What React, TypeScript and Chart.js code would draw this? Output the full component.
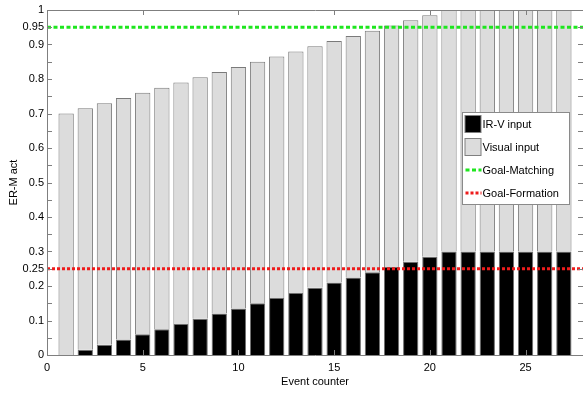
import React, { useEffect, useRef } from "react";
import { Chart, registerables } from "chart.js";

Chart.register(...registerables);

// ---- data ----
const eventCounter = [1, 2, 3, 4, 5, 6, 7, 8, 9, 10, 11, 12, 13, 14, 15, 16, 17, 18, 19, 20, 21, 22, 23, 24, 25, 26, 27];
const irvInput = [0, 0.015, 0.03, 0.045, 0.06, 0.075, 0.09, 0.105, 0.12, 0.135, 0.15, 0.165, 0.18, 0.195, 0.21, 0.225, 0.24, 0.255, 0.27, 0.285, 0.3, 0.3, 0.3, 0.3, 0.3, 0.3, 0.3];
const visualInput = [0.7, 0.7, 0.7, 0.7, 0.7, 0.7, 0.7, 0.7, 0.7, 0.7, 0.7, 0.7, 0.7, 0.7, 0.7, 0.7, 0.7, 0.7, 0.7, 0.7, 0.7, 0.7, 0.7, 0.7, 0.7, 0.7, 0.7];
const goalMatching = 0.95;
const goalFormation = 0.25;
const xRange = [0, 28];
const xTicks = [0, 5, 10, 15, 20, 25];
const yTicks = [0, 0.05, 0.1, 0.15, 0.2, 0.25, 0.3, 0.35, 0.4, 0.45, 0.5, 0.55, 0.6, 0.65, 0.7, 0.75, 0.8, 0.85, 0.9, 0.95, 1];
const yLabeled = [0, 0.1, 0.2, 0.25, 0.3, 0.4, 0.5, 0.6, 0.7, 0.8, 0.9, 0.95, 1];
const seriesLabels = ["IR-V input", "Visual input", "Goal-Matching", "Goal-Formation"];
const xTitle = "Event counter";
const yTitle = "ER-M act";

const FONT = "'Liberation Sans', Arial, Helvetica, sans-serif";
const AXIS_COLOR = "#7f7f7f";

const framePlugin = {
  id: "frameTicks",
  afterDatasetsDraw(chart: any) {
    const { ctx, chartArea: a, scales } = chart;
    const xs = scales.x;
    const ys = scales.y;
    ctx.save();
    ctx.strokeStyle = AXIS_COLOR;
    ctx.lineWidth = 1;
    ctx.setLineDash([]);
    ctx.beginPath();
    ctx.moveTo(a.right + 0.5, a.top + 0.5);
    ctx.lineTo(a.left + 0.5, a.top + 0.5);
    ctx.lineTo(a.left + 0.5, a.bottom + 0.5);
    ctx.lineTo(a.right + 0.5, a.bottom + 0.5);
    ctx.lineTo(a.right + 0.5, a.top + 0.5);
    ctx.stroke();
    const L = 5;
    ctx.beginPath();
    xTicks.forEach((v) => {
      const px = Math.round(xs.getPixelForValue(v)) + 0.5;
      ctx.moveTo(px, a.bottom);
      ctx.lineTo(px, a.bottom - L);
      ctx.moveTo(px, a.top);
      ctx.lineTo(px, a.top + L);
    });
    yTicks.forEach((v) => {
      const py = Math.round(ys.getPixelForValue(v)) + 0.5;
      ctx.moveTo(a.left, py);
      ctx.lineTo(a.left + L, py);
      ctx.moveTo(a.right, py);
      ctx.lineTo(a.right - L, py);
    });
    ctx.stroke();
    ctx.restore();
  },
};

const legendPlugin = {
  id: "boxLegend",
  afterDraw(chart: any) {
    const { ctx } = chart;
    const x0 = 462.5;
    const y0 = 112.5;
    const w = 107;
    const h = 92;
    ctx.save();
    ctx.fillStyle = "#ffffff";
    ctx.fillRect(x0, y0, w, h);
    ctx.strokeStyle = "#8a8a8a";
    ctx.lineWidth = 1;
    ctx.strokeRect(x0, y0, w, h);
    ctx.font = `11px ${FONT}`;
    ctx.textBaseline = "middle";
    chart.data.datasets.forEach((ds: any, i: number) => {
      const cy = y0 + 11.5 + i * 23;
      if (ds.type === "line") {
        ctx.strokeStyle = ds.borderColor;
        ctx.lineWidth = 3;
        ctx.setLineDash(ds.borderDash || []);
        ctx.beginPath();
        ctx.moveTo(x0 + 3, cy);
        ctx.lineTo(x0 + 19, cy);
        ctx.stroke();
        ctx.setLineDash([]);
      } else {
        ctx.fillStyle = ds.backgroundColor;
        ctx.fillRect(x0 + 2.5, cy - 8.5, 16, 17);
        ctx.strokeStyle = AXIS_COLOR;
        ctx.lineWidth = 1;
        ctx.strokeRect(x0 + 2.5, cy - 8.5, 16, 17);
      }
      ctx.fillStyle = "#000";
      ctx.fillText(ds.label, x0 + 20, cy + 0.5);
    });
    ctx.restore();
  },
};

export default function App() {
  const ref = useRef<HTMLCanvasElement | null>(null);

  useEffect(() => {
    document.body.style.margin = "0";
    const canvas = ref.current;
    if (!canvas) return;
    const fmt = (v: number) => String(Math.round(v * 100) / 100);
    const chart = new Chart(canvas, {
      type: "bar",
      data: {
        datasets: [
          {
            type: "bar",
            label: seriesLabels[0],
            data: eventCounter.map((x, i) => ({ x, y: irvInput[i] })),
            backgroundColor: "#000000",
            borderColor: "#6f6f6f",
            borderWidth: 1,
            barPercentage: 1,
            categoryPercentage: 0.8,
            order: 1,
          } as any,
          {
            type: "bar",
            label: seriesLabels[1],
            data: eventCounter.map((x, i) => ({ x, y: visualInput[i] })),
            backgroundColor: "#dcdcdc",
            borderColor: "#7a7a7a",
            borderWidth: 1,
            barPercentage: 1,
            categoryPercentage: 0.8,
            order: 1,
          } as any,
          {
            type: "line",
            label: seriesLabels[2],
            data: [
              { x: xRange[0], y: goalMatching },
              { x: xRange[1], y: goalMatching },
            ],
            borderColor: "#1ee61e",
            borderWidth: 3,
            borderDash: [4, 2.5],
            pointRadius: 0,
            stack: "gm",
            order: 0,
          } as any,
          {
            type: "line",
            label: seriesLabels[3],
            data: [
              { x: xRange[0], y: goalFormation },
              { x: xRange[1], y: goalFormation },
            ],
            borderColor: "#ee1c1c",
            borderWidth: 3,
            borderDash: [3, 2],
            pointRadius: 0,
            stack: "gf",
            order: 0,
          } as any,
        ],
      },
      options: {
        responsive: false,
        animation: false,
        devicePixelRatio: 1,
        layout: { padding: { top: 10, right: 0, left: 0, bottom: 0 } },
        plugins: {
          legend: { display: false },
          tooltip: { enabled: false },
        },
        scales: {
          x: {
            type: "linear",
            stacked: true,
            offset: false,
            min: xRange[0],
            max: xRange[1],
            grid: { display: false, drawTicks: false, offset: false },
            border: { display: false },
            afterBuildTicks: (s: any) => {
              s.ticks = xTicks.map((v) => ({ value: v }));
            },
            afterFit: (s: any) => {
              s.height = 38;
            },
            ticks: {
              autoSkip: false,
              maxRotation: 0,
              padding: 6,
              color: "#000",
              font: { family: FONT, size: 11 },
              callback: (v: any) => fmt(Number(v)),
            },
            title: {
              display: true,
              text: xTitle,
              color: "#000",
              font: { family: FONT, size: 11 },
              padding: { top: 0, bottom: 4 },
            },
          },
          y: {
            type: "linear",
            stacked: true,
            min: 0,
            max: 1,
            grid: { display: false, drawTicks: false },
            border: { display: false },
            afterBuildTicks: (s: any) => {
              s.ticks = yTicks.map((v) => ({ value: v }));
            },
            afterFit: (s: any) => {
              s.width = 47;
            },
            ticks: {
              autoSkip: false,
              padding: 3,
              color: "#000",
              font: { family: FONT, size: 11 },
              callback: (v: any) => {
                const n = Number(v);
                return yLabeled.some((l) => Math.abs(l - n) < 1e-6) ? fmt(n) : "";
              },
            },
            title: {
              display: true,
              text: yTitle,
              color: "#000",
              font: { family: FONT, size: 11 },
              padding: { top: 7, bottom: 0 },
            },
          },
        },
      } as any,
      plugins: [framePlugin, legendPlugin],
    });
    return () => chart.destroy();
  }, []);

  return (
    <div style={{ position: "relative", width: 583, height: 393 }}>
      <canvas ref={ref} width={583} height={393} style={{ display: "block", width: 583, height: 393 }} />
    </div>
  );
}
